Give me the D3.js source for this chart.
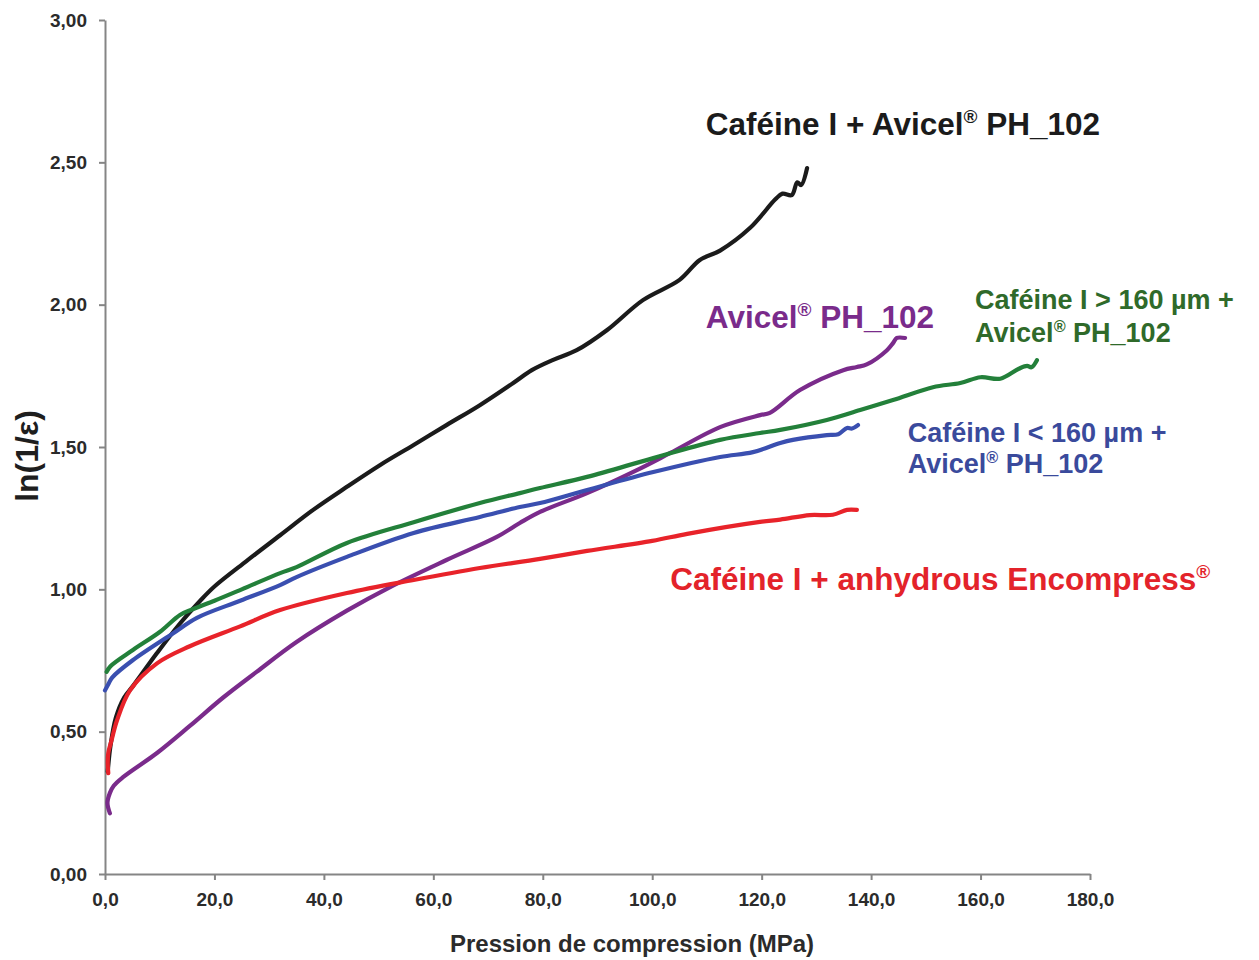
<!DOCTYPE html>
<html>
<head>
<meta charset="utf-8">
<script src="https://cdn.jsdelivr.net/npm/d3@7"></script>
<style>
  html, body { margin: 0; padding: 0; background: #fff; }
  svg { display: block; font-family: "Liberation Sans", Arial, sans-serif; }
</style>
</head>
<body>
<svg id="chart" width="1259" height="960"></svg>
<script>
// ---------- data ----------
const xTicks = [0, 20, 40, 60, 80, 100, 120, 140, 160, 180];
const yTicks = [0, 0.5, 1.0, 1.5, 2.0, 2.5, 3.0];

const blackX = [0.5, 1, 2, 3.5, 5.1, 9.5, 13.7, 17.4, 20, 25.9, 32, 38.1, 44.2, 50.3, 56.4, 62.4, 68.5, 74.6, 78, 81.9, 86.2, 91.7, 98.3, 105, 108.7, 112.4, 117.9, 122.5, 123.8, 125.5, 126.5, 127.2, 128.3];
const blackY = [0.36, 0.45, 0.55, 0.62, 0.66, 0.776, 0.88, 0.96, 1.01, 1.10, 1.19, 1.28, 1.36, 1.437, 1.507, 1.577, 1.647, 1.725, 1.77, 1.806, 1.84, 1.91, 2.016, 2.087, 2.157, 2.19, 2.27, 2.37, 2.39, 2.385, 2.43, 2.42, 2.48];

const purpleX = [0.9, 0.45, 0.9, 1.6, 3.3, 9.5, 15.5, 21.6, 27.7, 35, 44.2, 52.1, 62.4, 71.6, 75.8, 79.5, 88.1, 97.2, 103.3, 112.4, 119.7, 121.5, 127, 134.9, 137.4, 139.2, 142.9, 144, 144.7, 146.2];
const purpleY = [0.213, 0.25, 0.285, 0.31, 0.34, 0.425, 0.52, 0.62, 0.71, 0.815, 0.925, 1.008, 1.103, 1.184, 1.233, 1.272, 1.338, 1.419, 1.479, 1.57, 1.612, 1.62, 1.70, 1.77, 1.781, 1.79, 1.84, 1.865, 1.883, 1.883];

const redX = [0.6, 0.5, 0.6, 1.2, 2.2, 4.6, 9.5, 15.5, 24.7, 32, 44.2, 56.4, 68.5, 79.5, 88.1, 100, 106.4, 119.7, 123.4, 128.8, 133, 135.6, 137.4];
const redY = [0.354, 0.39, 0.425, 0.47, 0.54, 0.646, 0.74, 0.80, 0.87, 0.927, 0.987, 1.033, 1.075, 1.107, 1.135, 1.17, 1.195, 1.237, 1.245, 1.261, 1.262, 1.279, 1.279];

const blueX = [0, 0.7, 1.3, 5, 12.4, 16.8, 24.7, 32, 35, 44.2, 56.4, 68.5, 75.8, 79.5, 88.1, 100.2, 112.4, 118.4, 123.4, 125.7, 131.9, 134, 135.6, 136.5, 137.6];
const blueY = [0.645, 0.67, 0.69, 0.75, 0.845, 0.90, 0.96, 1.015, 1.043, 1.114, 1.198, 1.254, 1.289, 1.303, 1.349, 1.412, 1.465, 1.482, 1.514, 1.525, 1.542, 1.545, 1.567, 1.565, 1.577];

const greenX = [0.3, 1, 5.1, 10, 13.7, 16, 20, 25, 32, 35, 44.2, 56.4, 68.5, 75.8, 79.5, 88.1, 100.2, 112.4, 119.7, 123.4, 131.9, 138, 144, 151.3, 156.3, 160, 163.6, 167, 168.5, 169.3, 170.3];
const greenY = [0.71, 0.73, 0.787, 0.85, 0.91, 0.93, 0.96, 1.0, 1.057, 1.078, 1.163, 1.236, 1.303, 1.338, 1.356, 1.395, 1.461, 1.525, 1.549, 1.56, 1.595, 1.63, 1.665, 1.71, 1.725, 1.745, 1.74, 1.775, 1.785, 1.78, 1.805];

const seriesNames = ["Caféine I + Avicel PH_102", "Avicel PH_102", "Caféine I + anhydrous Encompress", "Caféine I < 160 µm + Avicel PH_102", "Caféine I > 160 µm + Avicel PH_102"];

// ---------- layout ----------
const svg = d3.select("#chart");
const x = d3.scaleLinear().domain([0, 180]).range([105, 1090]);
const y = d3.scaleLinear().domain([0, 3]).range([874, 20]);

const loc = d3.formatLocale({decimal: ",", thousands: ".", grouping: [3], currency: ["", ""]});
const fx = loc.format(".1f");
const fy = loc.format(".2f");

const axisColor = "#858585";
const tickFont = 19;

const gx = svg.append("g").attr("transform", `translate(0,${y(0)})`)
  .call(d3.axisBottom(x).tickValues(xTicks).tickFormat(fx).tickSize(6).tickSizeOuter(0).tickPadding(13));
const gy = svg.append("g").attr("transform", `translate(${x(0)},0)`)
  .call(d3.axisLeft(y).tickValues(yTicks).tickFormat(fy).tickSize(6).tickSizeOuter(0).tickPadding(12));

[gx, gy].forEach(g => {
  g.select(".domain").attr("stroke", axisColor).attr("stroke-width", 2);
  g.selectAll(".tick line").attr("stroke", axisColor).attr("stroke-width", 2);
  g.selectAll(".tick text").attr("fill", "#2b2b2b").attr("font-size", tickFont).attr("font-weight", "bold")
    .attr("font-family", '"Liberation Sans", Arial, sans-serif');
});

svg.append("text")
  .attr("x", 632).attr("y", 952)
  .attr("text-anchor", "middle")
  .attr("font-size", 24).attr("font-weight", "bold").attr("fill", "#2b2b2b")
  .text("Pression de compression (MPa)");

svg.append("text")
  .attr("transform", "translate(38,456) rotate(-90)")
  .attr("text-anchor", "middle")
  .attr("font-size", 32).attr("font-weight", "bold").attr("fill", "#1e1e1e")
  .text("ln(1/ε)");

// ---------- lines ----------
const line = d3.line().x(d => x(d[0])).y(d => y(d[1])).curve(d3.curveCatmullRom.alpha(0.5));
const zip = (a, b) => a.map((v, i) => [v, b[i]]);

const series = [
  {name: seriesNames[0], data: zip(blackX, blackY), color: "#1b1b1b"},
  {name: seriesNames[1], data: zip(purpleX, purpleY), color: "#7a2b8b"},
  {name: seriesNames[2], data: zip(redX, redY), color: "#e8232a"},
  {name: seriesNames[3], data: zip(blueX, blueY), color: "#3a4fb0"},
  {name: seriesNames[4], data: zip(greenX, greenY), color: "#23803a"}
];

svg.append("g").selectAll("path").data(series).join("path")
  .attr("d", d => line(d.data))
  .attr("fill", "none")
  .attr("stroke", d => d.color)
  .attr("stroke-width", 4.2)
  .attr("stroke-linecap", "round")
  .attr("stroke-linejoin", "round");

// ---------- labels ----------
function label(parts, xv, yv, size, color) {
  const t = svg.append("text")
    .attr("x", x(xv)).attr("y", y(yv))
    .attr("font-size", size).attr("font-weight", "bold").attr("fill", color);
  let shift = 0;
  parts.forEach(p => {
    const ts = t.append("tspan").text(p.t);
    if (p.sup) {
      ts.attr("font-size", size * 0.6).attr("dy", -size * 0.38);
      shift = size * 0.38;
    } else if (shift) {
      ts.attr("dy", shift);
      shift = 0;
    }
  });
  return t;
}

label([{t: "Caféine I + Avicel"}, {t: "®", sup: true}, {t: " PH_102"}], 109.8, 2.596, 31.5, "#1b1b1b");
label([{t: "Avicel"}, {t: "®", sup: true}, {t: " PH_102"}], 109.8, 1.918, 31.5, "#7a2b8b");
label([{t: "Caféine I > 160 µm +"}], 159, 1.985, 27, "#2f6a2a");
label([{t: "Avicel"}, {t: "®", sup: true}, {t: " PH_102"}], 159, 1.869, 27, "#2f6a2a");
label([{t: "Caféine I < 160 µm +"}], 146.7, 1.517, 27, "#3a4a9c");
label([{t: "Avicel"}, {t: "®", sup: true}, {t: " PH_102"}], 146.7, 1.409, 27, "#3a4a9c");
label([{t: "Caféine I + anhydrous Encompress"}, {t: "®", sup: true}], 103.3, 0.999, 31.5, "#e3232a");
</script>
</body>
</html>
